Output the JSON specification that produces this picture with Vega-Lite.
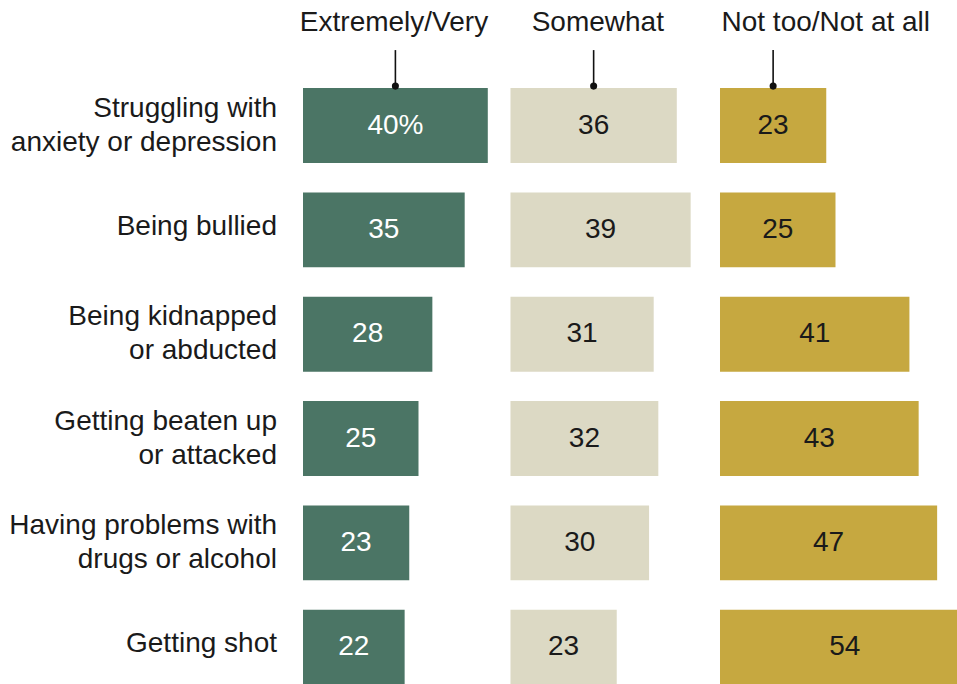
{
  "$schema": "https://vega.github.io/schema/vega-lite/v6.json",
  "autosize": {"type": "none"},
  "padding": {"left": 303, "top": 0, "right": 0, "bottom": 0},
  "width": 654,
  "height": 684,
  "background": "white",
  "config": {"view": {"stroke": null}, "font": "Liberation Sans"},
  "data": {
    "values": [
      {"item": "Struggling with\nanxiety or depression", "group": "Extremely/Very", "value": 40, "label": "40%"},
      {"item": "Struggling with\nanxiety or depression", "group": "Somewhat", "value": 36, "label": "36"},
      {"item": "Struggling with\nanxiety or depression", "group": "Not too/Not at all", "value": 23, "label": "23"},
      {"item": "Being bullied", "group": "Extremely/Very", "value": 35, "label": "35"},
      {"item": "Being bullied", "group": "Somewhat", "value": 39, "label": "39"},
      {"item": "Being bullied", "group": "Not too/Not at all", "value": 25, "label": "25"},
      {"item": "Being kidnapped\nor abducted", "group": "Extremely/Very", "value": 28, "label": "28"},
      {"item": "Being kidnapped\nor abducted", "group": "Somewhat", "value": 31, "label": "31"},
      {"item": "Being kidnapped\nor abducted", "group": "Not too/Not at all", "value": 41, "label": "41"},
      {"item": "Getting beaten up\nor attacked", "group": "Extremely/Very", "value": 25, "label": "25"},
      {"item": "Getting beaten up\nor attacked", "group": "Somewhat", "value": 32, "label": "32"},
      {"item": "Getting beaten up\nor attacked", "group": "Not too/Not at all", "value": 43, "label": "43"},
      {"item": "Having problems with\ndrugs or alcohol", "group": "Extremely/Very", "value": 23, "label": "23"},
      {"item": "Having problems with\ndrugs or alcohol", "group": "Somewhat", "value": 30, "label": "30"},
      {"item": "Having problems with\ndrugs or alcohol", "group": "Not too/Not at all", "value": 47, "label": "47"},
      {"item": "Getting shot", "group": "Extremely/Very", "value": 22, "label": "22"},
      {"item": "Getting shot", "group": "Somewhat", "value": 23, "label": "23"},
      {"item": "Getting shot", "group": "Not too/Not at all", "value": 54, "label": "54"}
    ]
  },
  "encoding": {
    "y": {
      "field": "item",
      "type": "nominal",
      "scale": {
        "domain": ["", "Struggling with\nanxiety or depression", "Being bullied", "Being kidnapped\nor abducted", "Getting beaten up\nor attacked", "Having problems with\ndrugs or alcohol", "Getting shot"],
        "range": [-16.2, 684.6],
        "paddingInner": 0.282,
        "paddingOuter": 0
      },
      "axis": null
    }
  },
  "layer": [
    {
      "transform": [{"filter": {"field": "group", "equal": "Extremely/Very"}}],
      "mark": {"type": "bar", "color": "#4b7565"},
      "encoding": {
        "x": {"field": "value", "type": "quantitative", "scale": {"domain": [0, 141.56], "nice": false, "zero": false}, "axis": null}
      }
    },
    {
      "layer": [
        {
          "transform": [
            {"filter": {"field": "group", "equal": "Extremely/Very"}},
            {"filter": {"field": "item", "oneOf": ["Struggling with\nanxiety or depression", "Being kidnapped\nor abducted", "Getting beaten up\nor attacked", "Having problems with\ndrugs or alcohol"]}}
          ],
          "mark": {"type": "text", "fontSize": 28, "align": "right", "baseline": "middle", "dy": -17, "color": "#1a1a1a", "lineBreak": "\n", "lineHeight": 34},
          "encoding": {
            "x": {"datum": -11.26, "type": "quantitative", "axis": null},
            "text": {"field": "item"}
          }
        },
        {
          "transform": [
            {"filter": {"field": "group", "equal": "Extremely/Very"}},
            {"filter": {"field": "item", "oneOf": ["Being bullied", "Getting shot"]}}
          ],
          "mark": {"type": "text", "fontSize": 28, "align": "right", "baseline": "middle", "dy": -3, "color": "#1a1a1a"},
          "encoding": {
            "x": {"datum": -11.26, "type": "quantitative", "axis": null},
            "text": {"field": "item"}
          }
        },
        {
          "transform": [{"filter": {"field": "group", "equal": "Extremely/Very"}}],
          "mark": {"type": "text", "fontSize": 28, "align": "center", "baseline": "middle", "dy": 0, "color": "#ffffff"},
          "encoding": {
            "x": {"field": "value", "type": "quantitative", "scale": {"domain": [0, 283.12], "nice": false, "zero": false}, "axis": null},
            "text": {"field": "label"}
          }
        },
        {
          "transform": [{"filter": {"field": "group", "equal": "Extremely/Very"}}, {"filter": {"field": "item", "equal": "Struggling with\nanxiety or depression"}}],
          "mark": {"type": "rule", "color": "#111111", "strokeWidth": 1.6},
          "encoding": {
            "x": {"field": "value", "type": "quantitative", "axis": null},
            "y": {"field": "item", "type": "nominal", "bandPosition": 0, "axis": null},
            "y2": {"datum": "", "bandPosition": 0.885}
          }
        },
        {
          "transform": [{"filter": {"field": "group", "equal": "Extremely/Very"}}, {"filter": {"field": "item", "equal": "Struggling with\nanxiety or depression"}}],
          "mark": {"type": "point", "filled": true, "color": "#111111", "size": 50, "opacity": 1, "yOffset": -2},
          "encoding": {
            "x": {"field": "value", "type": "quantitative", "axis": null},
            "y": {"field": "item", "type": "nominal", "bandPosition": 0, "axis": null}
          }
        },
        {
          "data": {"values": [{"group": "Extremely/Very"}]},
          "mark": {"type": "text", "fontSize": 28, "color": "#1a1a1a", "align": "center", "baseline": "middle", "dy": 2},
          "encoding": {"x": {"datum": 39.4, "type": "quantitative", "axis": null}, "y": {"datum": "", "axis": null}, "text": {"field": "group"}}
        }
      ]
    },
    {
      "transform": [{"filter": {"field": "group", "equal": "Somewhat"}}],
      "mark": {"type": "bar", "color": "#dcd9c4"},
      "encoding": {
        "x": {"field": "value", "type": "quantitative", "scale": {"domain": [-44.91, 96.65], "nice": false, "zero": false}, "axis": null}
      }
    },
    {
      "layer": [
        {
          "transform": [{"filter": {"field": "group", "equal": "Somewhat"}}],
          "mark": {"type": "text", "fontSize": 28, "align": "center", "baseline": "middle", "dy": 0, "color": "#1a1a1a"},
          "encoding": {
            "x": {"field": "value", "type": "quantitative", "scale": {"domain": [-89.82, 193.3], "nice": false, "zero": false}, "axis": null},
            "text": {"field": "label"}
          }
        },
        {
          "transform": [{"filter": {"field": "group", "equal": "Somewhat"}}, {"filter": {"field": "item", "equal": "Struggling with\nanxiety or depression"}}],
          "mark": {"type": "rule", "color": "#111111", "strokeWidth": 1.6},
          "encoding": {
            "x": {"field": "value", "type": "quantitative", "axis": null},
            "y": {"field": "item", "type": "nominal", "bandPosition": 0, "axis": null},
            "y2": {"datum": "", "bandPosition": 0.885}
          }
        },
        {
          "transform": [{"filter": {"field": "group", "equal": "Somewhat"}}, {"filter": {"field": "item", "equal": "Struggling with\nanxiety or depression"}}],
          "mark": {"type": "point", "filled": true, "color": "#111111", "size": 50, "opacity": 1, "yOffset": -2},
          "encoding": {
            "x": {"field": "value", "type": "quantitative", "axis": null},
            "y": {"field": "item", "type": "nominal", "bandPosition": 0, "axis": null}
          }
        },
        {
          "data": {"values": [{"group": "Somewhat"}]},
          "mark": {"type": "text", "fontSize": 28, "color": "#1a1a1a", "align": "center", "baseline": "middle", "dy": 2},
          "encoding": {"x": {"datum": 37.8, "type": "quantitative", "axis": null}, "y": {"datum": "", "axis": null}, "text": {"field": "group"}}
        }
      ]
    },
    {
      "transform": [{"filter": {"field": "group", "equal": "Not too/Not at all"}}],
      "mark": {"type": "bar", "color": "#c6a840"},
      "encoding": {
        "x": {"field": "value", "type": "quantitative", "scale": {"domain": [-90.26, 51.3], "nice": false, "zero": false}, "axis": null}
      }
    },
    {
      "layer": [
        {
          "transform": [{"filter": {"field": "group", "equal": "Not too/Not at all"}}],
          "mark": {"type": "text", "fontSize": 28, "align": "center", "baseline": "middle", "dy": 0, "color": "#1a1a1a"},
          "encoding": {
            "x": {"field": "value", "type": "quantitative", "scale": {"domain": [-180.52, 102.6], "nice": false, "zero": false}, "axis": null},
            "text": {"field": "label"}
          }
        },
        {
          "transform": [{"filter": {"field": "group", "equal": "Not too/Not at all"}}, {"filter": {"field": "item", "equal": "Struggling with\nanxiety or depression"}}],
          "mark": {"type": "rule", "color": "#111111", "strokeWidth": 1.6},
          "encoding": {
            "x": {"field": "value", "type": "quantitative", "axis": null},
            "y": {"field": "item", "type": "nominal", "bandPosition": 0, "axis": null},
            "y2": {"datum": "", "bandPosition": 0.885}
          }
        },
        {
          "transform": [{"filter": {"field": "group", "equal": "Not too/Not at all"}}, {"filter": {"field": "item", "equal": "Struggling with\nanxiety or depression"}}],
          "mark": {"type": "point", "filled": true, "color": "#111111", "size": 50, "opacity": 1, "yOffset": -2},
          "encoding": {
            "x": {"field": "value", "type": "quantitative", "axis": null},
            "y": {"field": "item", "type": "nominal", "bandPosition": 0, "axis": null}
          }
        },
        {
          "data": {"values": [{"group": "Not too/Not at all"}]},
          "mark": {"type": "text", "fontSize": 28, "color": "#1a1a1a", "align": "center", "baseline": "middle", "dy": 2},
          "encoding": {"x": {"datum": 45.8, "type": "quantitative", "axis": null}, "y": {"datum": "", "axis": null}, "text": {"field": "group"}}
        }
      ]
    }
  ],
  "resolve": {"scale": {"x": "independent"}}
}
